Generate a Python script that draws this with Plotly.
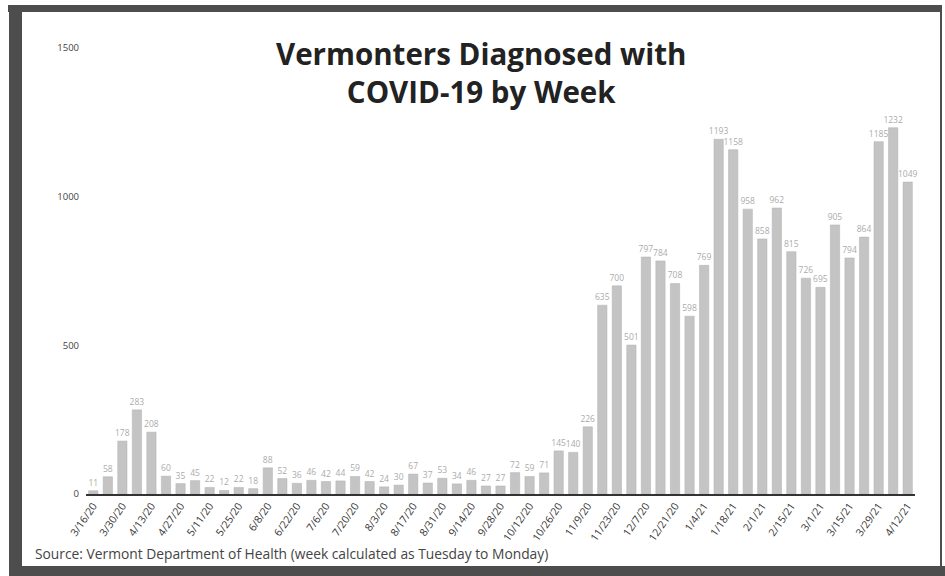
import plotly.graph_objects as go

weeks = ["3/16/20","3/23/20","3/30/20","4/6/20","4/13/20","4/20/20","4/27/20","5/4/20","5/11/20","5/18/20",
         "5/25/20","6/1/20","6/8/20","6/15/20","6/22/20","6/29/20","7/6/20","7/13/20","7/20/20","7/27/20",
         "8/3/20","8/10/20","8/17/20","8/24/20","8/31/20","9/7/20","9/14/20","9/21/20","9/28/20","10/5/20",
         "10/12/20","10/19/20","10/26/20","11/2/20","11/9/20","11/16/20","11/23/20","11/30/20","12/7/20","12/14/20",
         "12/21/20","12/28/20","1/4/21","1/11/21","1/18/21","1/25/21","2/1/21","2/8/21","2/15/21","2/22/21",
         "3/1/21","3/8/21","3/15/21","3/22/21","3/29/21","4/5/21","4/12/21"]
cases = [11, 58, 178, 283, 208, 60, 35, 45, 22, 12,
         22, 18, 88, 52, 36, 46, 42, 44, 59, 42,
         24, 30, 67, 37, 53, 34, 46, 27, 27, 72,
         59, 71, 145, 140, 226, 635, 700, 501, 797, 784,
         708, 598, 769, 1193, 1158, 958, 858, 962, 815, 726,
         695, 905, 794, 864, 1185, 1232, 1049]
tick_weeks = weeks[::2]
yticks = [0, 500, 1000, 1500]

L, T, W, H = 86, 48, 829, 446


def px(x):
    return (x - L) / W


def py(y):
    return (T + H - y) / H


fig = go.Figure(go.Bar(
    x=weeks, y=cases,
    marker=dict(color="#c4c4c4", line=dict(color="#b0b0b0", width=0.5)),
    text=[str(v) for v in cases], textposition="outside",
    textfont=dict(size=8.5, color="#ababab", family="Open Sans"),
    constraintext="none",
    cliponaxis=False,
    hoverinfo="skip",
))

band = "#4d4d4d"
frame = [
    (8, 941, 5, 12),     # top
    (9, 22, 5, 576),     # left
    (9, 945, 566, 576),  # bottom
    (940, 942, 5, 576),  # right
]
shapes = [dict(type="rect", xref="paper", yref="paper", x0=px(a), x1=px(b), y0=py(d), y1=py(c),
               fillcolor=band, line=dict(width=0), layer="above") for a, b, c, d in frame]

fig.update_layout(
    width=945, height=576,
    margin=dict(l=L, r=945 - L - W, t=T, b=576 - T - H, autoexpand=False),
    paper_bgcolor="white", plot_bgcolor="white",
    bargap=0.36,
    showlegend=False,
    font=dict(family="Open Sans", color="#444"),
    xaxis=dict(type="category", tickmode="array", tickvals=tick_weeks, ticktext=tick_weeks,
               tickangle=-55, tickfont=dict(size=10.5, color="#333"), showline=True,
               linecolor="#333", linewidth=1.5, showgrid=False, ticks="", range=[-0.5, 56.5],
               automargin=False),
    yaxis=dict(range=[0, 1500], tickvals=yticks, showgrid=False, zeroline=False, showline=False,
               tickfont=dict(size=9.5, color="#444"), ticks="", ticklabelstandoff=6, automargin=False),
    shapes=shapes,
    annotations=[
        dict(text="<b>Vermonters Diagnosed with<br>COVID-19 by Week</b>", xref="paper", yref="paper",
             x=px(481), y=py(72), xanchor="center", yanchor="middle", showarrow=False,
             font=dict(size=29.5, color="#222", family="Open Sans")),
        dict(text="Source: Vermont Department of Health (week calculated as Tuesday to Monday)",
             xref="paper", yref="paper", x=px(33), y=py(553), xanchor="left", yanchor="middle",
             showarrow=False, font=dict(size=13.8, color="#444")),
    ],
)

fig.write_html("out.html", config={"displayModeBar": False})
with open("out.html", "r", encoding="utf-8") as f:
    html = f.read()
html = html.replace("<body>", '<body style="margin:0;padding:0;overflow:hidden">', 1)
with open("out.html", "w", encoding="utf-8") as f:
    f.write(html)
